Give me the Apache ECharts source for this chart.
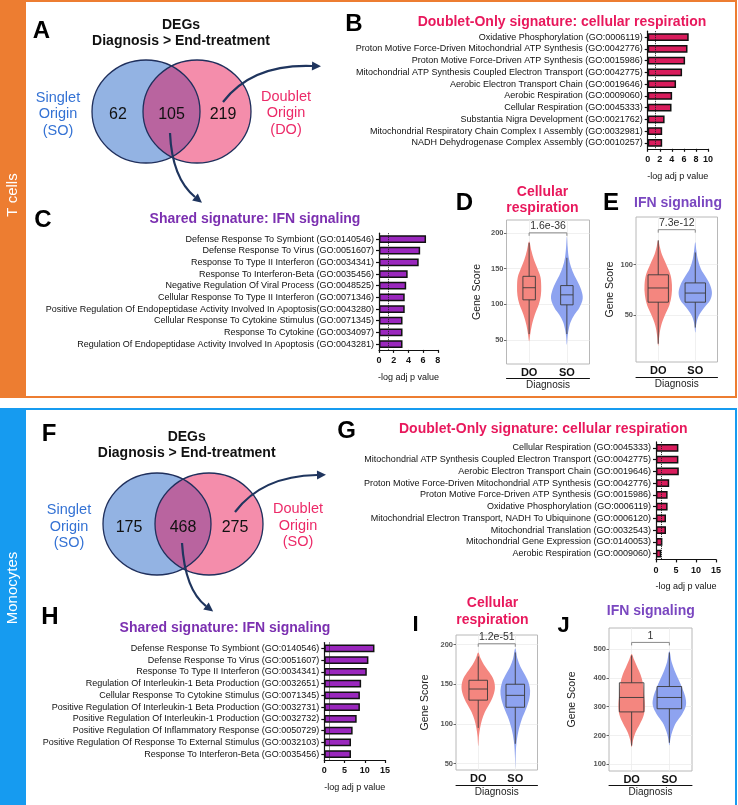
<!DOCTYPE html>
<html>
<head>
<meta charset="utf-8">
<script src="https://cdn.jsdelivr.net/npm/echarts@6/dist/echarts.min.js"></script>
<style>
  html, body { margin: 0; padding: 0; background: #fff; }
  #chart { width: 738px; height: 805px; }
</style>
</head>
<body>
<div id="chart"></div>
<script>
const FONT = '"Liberation Sans", Arial, Helvetica, sans-serif';

// Venn counts: [singlet only, shared, doublet only]
const tcellVenn = [62, 105, 219];
const monoVenn = [175, 468, 275];

// enrichment bars, -log adj p value
const sigLevel = 1.3; // -log10(0.05)

const bLabels = [
  'Oxidative Phosphorylation (GO:0006119)',
  'Proton Motive Force-Driven Mitochondrial ATP Synthesis (GO:0042776)',
  'Proton Motive Force-Driven ATP Synthesis (GO:0015986)',
  'Mitochondrial ATP Synthesis Coupled Electron Transport (GO:0042775)',
  'Aerobic Electron Transport Chain (GO:0019646)',
  'Aerobic Respiration (GO:0009060)',
  'Cellular Respiration (GO:0045333)',
  'Substantia Nigra Development (GO:0021762)',
  'Mitochondrial Respiratory Chain Complex I Assembly (GO:0032981)',
  'NADH Dehydrogenase Complex Assembly (GO:0010257)'
];
const bValues = [6.8, 6.6, 6.2, 5.7, 4.7, 4.05, 3.95, 2.8, 2.4, 2.4];

const cLabels = [
  'Defense Response To Symbiont (GO:0140546)',
  'Defense Response To Virus (GO:0051607)',
  'Response To Type II Interferon (GO:0034341)',
  'Response To Interferon-Beta (GO:0035456)',
  'Negative Regulation Of Viral Process (GO:0048525)',
  'Cellular Response To Type II Interferon (GO:0071346)',
  'Positive Regulation Of Endopeptidase Activity Involved In Apoptosis(GO:0043280)',
  'Cellular Response To Cytokine Stimulus (GO:0071345)',
  'Response To Cytokine (GO:0034097)',
  'Regulation Of Endopeptidase Activity Involved In Apoptosis (GO:0043281)'
];
const cValues = [6.4, 5.6, 5.4, 3.9, 3.7, 3.5, 3.5, 3.2, 3.2, 3.2];

const gLabels = [
  'Cellular Respiration (GO:0045333)',
  'Mitochondrial ATP Synthesis Coupled Electron Transport (GO:0042775)',
  'Aerobic Electron Transport Chain (GO:0019646)',
  'Proton Motive Force-Driven Mitochondrial ATP Synthesis (GO:0042776)',
  'Proton Motive Force-Driven ATP Synthesis (GO:0015986)',
  'Oxidative Phosphorylation (GO:0006119)',
  'Mitochondrial Electron Transport, NADH To Ubiquinone (GO:0006120)',
  'Mitochondrial Translation (GO:0032543)',
  'Mitochondrial Gene Expression (GO:0140053)',
  'Aerobic Respiration (GO:0009060)'
];
const gValues = [5.6, 5.6, 5.7, 3.3, 2.9, 2.9, 2.5, 2.5, 1.6, 1.3];

const hLabels = [
  'Defense Response To Symbiont (GO:0140546)',
  'Defense Response To Virus (GO:0051607)',
  'Response To Type II Interferon (GO:0034341)',
  'Regulation Of Interleukin-1 Beta Production (GO:0032651)',
  'Cellular Response To Cytokine Stimulus (GO:0071345)',
  'Positive Regulation Of Interleukin-1 Beta Production (GO:0032731)',
  'Positive Regulation Of Interleukin-1 Production (GO:0032732)',
  'Positive Regulation Of Inflammatory Response (GO:0050729)',
  'Positive Regulation Of Response To External Stimulus (GO:0032103)',
  'Response To Interferon-Beta (GO:0035456)'
];
const hValues = [12.4, 10.9, 10.5, 9.1, 8.8, 8.8, 8.0, 7.0, 6.6, 6.6];

// violins: groups, shape = [gene score, half width in group units], box = [min, q1, median, q3, max]
const groups = ['DO', 'SO'];

const dShapeDO = [[48,0],[58,0.03],[70,0.07],[85,0.15],[100,0.26],[112,0.31],[125,0.32],[138,0.3],[150,0.22],[162,0.13],[175,0.06],[188,0]];
const dShapeSO = [[43,0],[55,0.02],[65,0.05],[75,0.1],[85,0.2],[95,0.33],[108,0.42],[120,0.38],[130,0.3],[140,0.2],[152,0.11],[165,0.05],[180,0.02],[195,0]];
const dBoxDO = [58, 106, 123, 139, 186];
const dBoxSO = [58, 99, 113, 126, 165];
const dTicks = [50, 100, 150, 200];
const dP = '1.6e-36', dPLevel = 200;

const eShapeDO = [[20,0],[30,0.03],[40,0.08],[50,0.18],[60,0.3],[70,0.36],[80,0.37],[90,0.33],[100,0.22],[110,0.1],[118,0.04],[124,0]];
const eShapeSO = [[33,0],[42,0.03],[50,0.1],[58,0.25],[65,0.4],[72,0.45],[80,0.4],[88,0.28],[96,0.15],[105,0.07],[114,0.03],[122,0]];
const eBoxDO = [22, 63, 77, 90, 124];
const eBoxSO = [38, 63, 72, 82, 112];
const eTicks = [50, 100];
const eP = '7.3e-12', ePLevel = 134.5;

const iShapeDO = [[72,0],[85,0.02],[95,0.05],[105,0.1],[115,0.18],[125,0.3],[135,0.4],[145,0.45],[155,0.42],[165,0.3],[175,0.15],[183,0.06],[190,0]];
const iShapeSO = [[45,0],[60,0.01],[75,0.03],[90,0.08],[105,0.17],[120,0.3],[132,0.38],[142,0.4],[152,0.36],[162,0.26],[172,0.14],[182,0.06],[195,0]];
const iBoxDO = [95, 130, 144, 155, 185];
const iBoxSO = [75, 121, 136, 150, 190];
const iTicks = [50, 100, 150, 200];
const iP = '1.2e-51', iPLevel = 201;

const jShapeDO = [[160,0],[185,0.04],[210,0.1],[240,0.22],[270,0.32],[300,0.35],[340,0.33],[380,0.3],[410,0.24],[440,0.14],[465,0.06],[483,0]];
const jShapeSO = [[166,0],[190,0.03],[215,0.08],[245,0.18],[275,0.34],[305,0.44],[335,0.42],[365,0.34],[395,0.24],[425,0.14],[455,0.06],[492,0]];
const jBoxDO = [165, 282, 332, 383, 478];
const jBoxSO = [175, 293, 332, 370, 488];
const jTicks = [100, 200, 300, 400, 500];
const jP = '1', jPLevel = 523;

const PINK = '#e8185c', PURPLE = '#7b2fb0', VIOLET = '#7a47c0';
const ORANGE = '#ed7d31', BLUE = '#169bf0';
const violinColors = ['#f4867f', '#8ea3f0'];

const grids = [], xAxes = [], yAxes = [], series = [];

function addBars(box, labels, values, max, interval, color) {
  const gi = grids.length;
  grids.push({ left: box[0], top: box[1], width: box[2], height: box[3] });
  const axisStyle = { color: '#111', width: 1.2 };
  const xi = xAxes.length;
  xAxes.push({
    gridIndex: gi, type: 'value', min: 0, max: max, interval: interval,
    axisLine: { show: true, onZero: false, lineStyle: axisStyle },
    axisTick: { show: true, length: 3, lineStyle: axisStyle },
    splitLine: { show: false },
    axisLabel: { fontFamily: FONT, fontSize: 9, fontWeight: 'bold', color: '#111', margin: 6.5 },
    name: '-log adj p value', nameLocation: 'middle', nameGap: 23,
    nameTextStyle: { fontFamily: FONT, fontSize: 9, color: '#111' }
  });
  const yi = yAxes.length;
  yAxes.push({
    gridIndex: gi, type: 'category', inverse: true, data: labels,
    axisLine: { show: true, lineStyle: axisStyle },
    axisTick: { show: true, length: 3, alignWithLabel: true, lineStyle: axisStyle },
    axisLabel: { interval: 0, fontFamily: FONT, fontSize: 9, color: '#111', margin: 5 }
  });
  series.push({
    type: 'bar', xAxisIndex: xi, yAxisIndex: yi, data: values, barWidth: '66%', silent: true,
    itemStyle: { color: color, borderColor: '#111', borderWidth: 1.5 },
    markLine: {
      silent: true, symbol: 'none', label: { show: false },
      lineStyle: { type: 'dotted', color: '#222', width: 1 },
      data: [{ xAxis: sigLevel }]
    }
  });
}

function addViolin(p) {
  const gi = grids.length;
  grids.push({ show: true, left: p.box[0], top: p.box[1], width: p.box[2], height: p.box[3],
    borderColor: '#b8b8b8', borderWidth: 1, backgroundColor: '#fff' });
  const xi = xAxes.length;
  xAxes.push({
    gridIndex: gi, type: 'value', min: 0.4, max: 2.6,
    axisLine: { show: false }, axisTick: { show: false, customValues: [1, 2] },
    axisLabel: { customValues: [1, 2], formatter: v => groups[Math.round(v) - 1],
      fontFamily: FONT, fontSize: 11, fontWeight: 'bold', color: '#111', margin: 3 },
    splitLine: { show: true, lineStyle: { color: '#ececec', width: 0.8 } }
  });
  xAxes.push({
    gridIndex: gi, type: 'value', min: 0.4, max: 2.6, position: 'bottom', offset: p.lineOffset,
    axisLine: { show: true, onZero: false, lineStyle: { color: '#111', width: 1 } },
    axisTick: { show: false }, axisLabel: { show: false }, splitLine: { show: false },
    name: 'Diagnosis', nameLocation: 'middle', nameGap: 2,
    nameTextStyle: { fontFamily: FONT, fontSize: 10, color: '#222', verticalAlign: 'top' }
  });
  const yi = yAxes.length;
  yAxes.push({
    gridIndex: gi, type: 'value', min: p.yMin, max: p.yMax,
    axisLine: { show: false },
    axisTick: { show: true, customValues: p.ticks, length: 2.5, lineStyle: { color: '#444', width: 0.8 } },
    axisLabel: { customValues: p.ticks, fontFamily: FONT, fontSize: 7.5, fontWeight: 'bold', color: '#555', margin: 3 },
    splitLine: { show: true, lineStyle: { color: '#ececec', width: 0.8 } },
    name: 'Gene Score', nameLocation: 'middle', nameGap: p.nameGap,
    nameTextStyle: { fontFamily: FONT, fontSize: 10.5, color: '#222' }
  });
  const shapes = p.shapes, boxes = p.boxes;
  series.push({
    type: 'custom', xAxisIndex: xi, yAxisIndex: yi, silent: true, z: 3,
    data: boxes.map((b, k) => [k + 1, b[2]]),
    renderItem: (params, api) => {
      const k = params.dataIndex, xc = api.value(0), s = shapes[k];
      const right = s.map(d => api.coord([xc + d[1], d[0]]));
      const left = s.slice(1, -1).reverse().map(d => api.coord([xc - d[1], d[0]]));
      return { type: 'polygon', shape: { points: right.concat(left), smooth: 0.35 },
        style: { fill: violinColors[k], stroke: 'none' } };
    }
  });
  series.push({
    type: 'custom', xAxisIndex: xi, yAxisIndex: yi, silent: true, z: 4,
    data: boxes.map((b, k) => [k + 1, b[2]]),
    renderItem: (params, api) => {
      const k = params.dataIndex, b = boxes[k], xc = api.value(0), hw = p.boxWidth / 2;
      const lo = api.coord([xc - hw, b[3]]), hi = api.coord([xc + hw, b[1]]);
      const mid = api.coord([xc, b[2]]);
      const top = api.coord([xc, b[4]]), q3 = api.coord([xc, b[3]]);
      const q1 = api.coord([xc, b[1]]), bot = api.coord([xc, b[0]]);
      const st = { stroke: '#3a3a3a', lineWidth: 0.9, fill: 'none' };
      return { type: 'group', children: [
        { type: 'line', shape: { x1: top[0], y1: top[1], x2: q3[0], y2: q3[1] }, style: st },
        { type: 'line', shape: { x1: q1[0], y1: q1[1], x2: bot[0], y2: bot[1] }, style: st },
        { type: 'rect', shape: { x: lo[0], y: lo[1], width: hi[0] - lo[0], height: hi[1] - lo[1] }, style: st },
        { type: 'line', shape: { x1: lo[0], y1: mid[1], x2: hi[0], y2: mid[1] }, style: st }
      ] };
    }
  });
  series.push({
    type: 'custom', xAxisIndex: xi, yAxisIndex: yi, silent: true, z: 5,
    data: [[1.5, p.pLevel]],
    renderItem: (params, api) => {
      const a = api.coord([1, api.value(1)]), b = api.coord([2, api.value(1)]);
      return { type: 'group', children: [
        { type: 'polyline', shape: { points: [[a[0], a[1] + 3], a, b, [b[0], b[1] + 3]] },
          style: { stroke: '#8a8a8a', lineWidth: 1, fill: 'none' } },
        { type: 'text', x: (a[0] + b[0]) / 2, y: a[1] - 1,
          style: { text: p.pText, fill: '#333', font: '10.5px ' + FONT, align: 'center', verticalAlign: 'bottom' } }
      ] };
    }
  });
}

addBars([647.7, 31.2, 60.3, 117.6], bLabels, bValues, 10, 2, '#d91c5c');
addBars([379, 233.2, 58.8, 116.7], cLabels, cValues, 8, 2, '#9a27bd');
addBars([656, 441.9, 60, 117.5], gLabels, gValues, 15, 5, '#d91c5c');
addBars([324.3, 642.5, 60.7, 117.5], hLabels, hValues, 15, 5, '#9a27bd');

addViolin({ box: [506.5, 220, 83, 144], yMin: 16, yMax: 218, ticks: dTicks, nameGap: 24, lineOffset: 14,
  shapes: [dShapeDO, dShapeSO], boxes: [dBoxDO, dBoxSO], boxWidth: 0.33, pText: dP, pLevel: dPLevel });
addViolin({ box: [636, 217, 81.5, 145], yMin: 4, yMax: 147, ticks: eTicks, nameGap: 20, lineOffset: 15,
  shapes: [eShapeDO, eShapeSO], boxes: [eBoxDO, eBoxSO], boxWidth: 0.55, pText: eP, pLevel: ePLevel });
addViolin({ box: [456, 635, 81.5, 135], yMin: 42, yMax: 212, ticks: iTicks, nameGap: 25, lineOffset: 15,
  shapes: [iShapeDO, iShapeSO], boxes: [iBoxDO, iBoxSO], boxWidth: 0.5, pText: iP, pLevel: iPLevel });
addViolin({ box: [609, 628, 83, 143], yMin: 77, yMax: 573, ticks: jTicks, nameGap: 31, lineOffset: 14,
  shapes: [jShapeDO, jShapeSO], boxes: [jBoxDO, jBoxSO], boxWidth: 0.65, pText: jP, pLevel: jPLevel });

// ---- graphic: frames, venns, arrows, titles
const graphic = [];
function txt(x, y, text, size, color, weight, extra) {
  graphic.push(Object.assign({ type: 'text', x: x, y: y, z: 30,
    style: { text: text, fill: color, font: (weight || 'normal') + ' ' + size + 'px ' + FONT,
      align: 'center', verticalAlign: 'middle' } }, extra || {}));
}

graphic.push({ type: 'rect', z: 1, shape: { x: 0, y: 0, width: 26, height: 398 }, style: { fill: ORANGE } });
graphic.push({ type: 'rect', z: 1, shape: { x: 1, y: 1, width: 735, height: 396 }, style: { fill: 'none', stroke: ORANGE, lineWidth: 2 } });
graphic.push({ type: 'rect', z: 1, shape: { x: 0, y: 408, width: 26, height: 397 }, style: { fill: BLUE } });
graphic.push({ type: 'rect', z: 1, shape: { x: 1, y: 409, width: 735, height: 420 }, style: { fill: 'none', stroke: BLUE, lineWidth: 2 } });
txt(13, 195, 'T cells', 15, '#fff', 'normal', { rotation: Math.PI / 2 });
txt(13, 588, 'Monocytes', 15, '#fff', 'normal', { rotation: Math.PI / 2 });

function venn(cx1, cx2, cy, rx, ry, counts, leftLabel, rightLabel) {
  graphic.push({ type: 'ellipse', z: 5, shape: { cx: cx1, cy: cy, rx: rx, ry: ry }, style: { fill: '#93b3e3' } });
  graphic.push({ type: 'ellipse', z: 6, shape: { cx: cx2, cy: cy, rx: rx, ry: ry }, style: { fill: '#f48dab' } });
  const d = cx2 - cx1, t0 = Math.acos(-d / (2 * rx)), t1 = Math.acos(d / (2 * rx));
  const pts = [];
  for (let i = 0; i <= 40; i++) {
    const t = t0 + (2 * Math.PI - 2 * t0) * i / 40;
    pts.push([cx2 + rx * Math.cos(t), cy + ry * Math.sin(t)]);
  }
  for (let i = 0; i <= 40; i++) {
    const t = -t1 + 2 * t1 * i / 40;
    pts.push([cx1 + rx * Math.cos(t), cy + ry * Math.sin(t)]);
  }
  graphic.push({ type: 'polygon', z: 7, shape: { points: pts }, style: { fill: '#b9649f' } });
  [cx1, cx2].forEach(cx => graphic.push({ type: 'ellipse', z: 8, shape: { cx: cx, cy: cy, rx: rx, ry: ry },
    style: { fill: 'none', stroke: '#1f2f5c', lineWidth: 1.3 } }));
  txt(cx1 - 28, cy + 3.5, String(counts[0]), 16, '#111');
  txt((cx1 + cx2) / 2, cy + 3.5, String(counts[1]), 16, '#111');
  txt(cx2 + 26, cy + 3.5, String(counts[2]), 16, '#111');
  leftLabel.forEach((s, i) => txt(cx1 - 88, cy - 14 + i * 16.7, s, 14.5, '#3472d4'));
  rightLabel.forEach((s, i) => txt(cx2 + 89, cy - 15 + i * 16.7, s, 14.5, '#ec2a68'));
}

function arrow(x1, y1, cx, cy, x2, y2) {
  graphic.push({ type: 'bezierCurve', z: 12, shape: { x1: x1, y1: y1, cpx1: cx, cpy1: cy, x2: x2, y2: y2 },
    style: { stroke: '#1f355e', lineWidth: 2.2, fill: 'none' } });
  const a = Math.atan2(y2 - cy, x2 - cx), L = 9, W = 4.5;
  graphic.push({ type: 'polygon', z: 12, shape: { points: [
    [x2 + L * Math.cos(a), y2 + L * Math.sin(a)],
    [x2 - W * Math.sin(a), y2 + W * Math.cos(a)],
    [x2 + W * Math.sin(a), y2 - W * Math.cos(a)]
  ] }, style: { fill: '#1f355e' } });
}

// T cells
txt(41.5, 31, 'A', 24, '#000', 'bold');
txt(181, 25, 'DEGs', 14, '#111', 'bold');
txt(181, 41.5, 'Diagnosis > End-treatment', 14, '#111', 'bold');
venn(146, 197, 111.5, 54, 51.5, tcellVenn, ['Singlet', 'Origin', '(SO)'], ['Doublet', 'Origin', '(DO)']);
arrow(223, 102, 252, 64, 312, 66);
arrow(170, 133, 172, 178, 195, 197);

txt(354, 24, 'B', 24, '#000', 'bold');
txt(562, 21.7, 'Doublet-Only signature: cellular respiration', 14, PINK, 'bold');
txt(43, 220, 'C', 24, '#000', 'bold');
txt(255, 219, 'Shared signature: IFN signaling', 14, PURPLE, 'bold');
txt(464.5, 203, 'D', 24, '#000', 'bold');
txt(542.5, 192.3, 'Cellular', 14, PINK, 'bold');
txt(542.5, 208.3, 'respiration', 14, PINK, 'bold');
txt(611, 203, 'E', 24, '#000', 'bold');
txt(678, 203.3, 'IFN signaling', 14, VIOLET, 'bold');

// Monocytes
txt(49, 434, 'F', 24, '#000', 'bold');
txt(186.7, 437.3, 'DEGs', 14, '#111', 'bold');
txt(186.7, 453.3, 'Diagnosis > End-treatment', 14, '#111', 'bold');
venn(157, 209, 524, 54, 51, monoVenn, ['Singlet', 'Origin', '(SO)'], ['Doublet', 'Origin', '(SO)']);
arrow(235, 512, 262, 476, 317, 475);
arrow(182, 543, 185, 590, 206, 606);

txt(346.5, 431.5, 'G', 24, '#000', 'bold');
txt(543.3, 429.3, 'Doublet-Only signature: cellular respiration', 14, PINK, 'bold');
txt(50, 617.5, 'H', 24, '#000', 'bold');
txt(225, 628, 'Shared signature: IFN signaling', 14, PURPLE, 'bold');
txt(415.5, 624.5, 'I', 22, '#000', 'bold');
txt(492.5, 603.3, 'Cellular', 14, PINK, 'bold');
txt(492.5, 620, 'respiration', 14, PINK, 'bold');
txt(563.5, 626, 'J', 22, '#000', 'bold');
txt(650.8, 610.7, 'IFN signaling', 14, VIOLET, 'bold');

const chart = echarts.init(document.getElementById('chart'), null, { renderer: 'canvas' });
chart.setOption({
  animation: false,
  backgroundColor: '#fff',
  textStyle: { fontFamily: FONT },
  grid: grids,
  xAxis: xAxes,
  yAxis: yAxes,
  series: series,
  graphic: graphic
});
</script>
</body>
</html>
